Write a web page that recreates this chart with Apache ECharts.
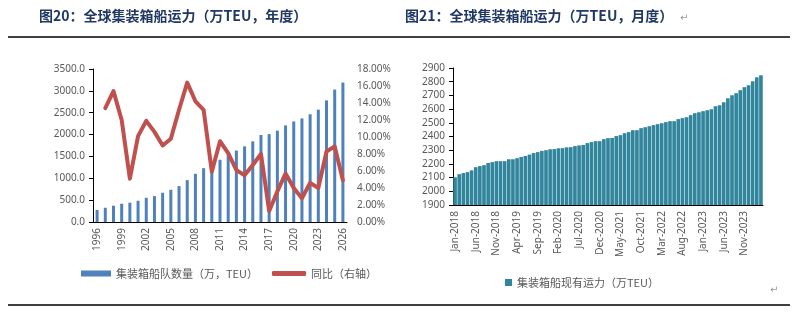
<!DOCTYPE html>
<html>
<head>
<meta charset="utf-8">
<script src="https://cdn.jsdelivr.net/npm/echarts@6/dist/echarts.min.js"></script>
<style>
html, body { margin: 0; padding: 0; background: #fff; }
#chart { width: 800px; height: 315px; }
</style>
</head>
<body>
<div id="chart"></div>
<script>
// 年度数据
var years = ['1996','1997','1998','1999','2000','2001','2002','2003','2004','2005','2006','2007','2008','2009','2010',
    '2011','2012','2013','2014','2015','2016','2017','2018','2019','2020','2021','2022','2023','2024','2025','2026'];
var fleetTeu = [275, 326, 372, 418, 441, 486, 554, 593, 669, 737, 821, 958, 1102, 1231, 1300,
    1424, 1540, 1635, 1730, 1845, 1990, 2010, 2090, 2210, 2300, 2370, 2465, 2570, 2782, 3030, 3190];
var yoy = ['-', 13.4, 15.4, 12.0, 5.1, 10.1, 11.9, 10.6, 9.0, 9.8, 13.2, 16.4, 14.2, 13.2, 5.9,
    9.5, 8.1, 6.1, 5.5, 6.7, 8.0, 1.3, 3.6, 5.7, 4.0, 2.8, 4.6, 4.0, 8.3, 8.9, 4.9];

// 月度数据 Jan-2018 ~ Mar-2024
var monthNames = ['Jan','Feb','Mar','Apr','May','Jun','Jul','Aug','Sep','Oct','Nov','Dec'];
var months = [];
for (var y = 2018; y <= 2024; y++) {
    for (var m = 0; m < 12; m++) {
        if (y == 2024 && m > 2) break;
        months.push(monthNames[m] + '-' + y);
    }
}
var monthlyTeu = [2102, 2125, 2133, 2140, 2153, 2176, 2184, 2191, 2207, 2213, 2220, 2220,
    2220, 2234, 2234, 2242, 2251, 2258, 2268, 2279, 2286, 2295, 2300, 2307,
    2308, 2314, 2315, 2321, 2322, 2330, 2335, 2338, 2352, 2359, 2366, 2366,
    2381, 2388, 2389, 2403, 2410, 2424, 2432, 2446, 2446, 2461, 2468, 2475,
    2483, 2490, 2497, 2505, 2512, 2512, 2527, 2534, 2541, 2556, 2570, 2577,
    2585, 2592, 2599, 2621, 2628, 2650, 2679, 2701, 2716, 2738, 2760, 2774,
    2803, 2832, 2847];

var labelFont = 'Noto Sans, Noto Sans CJK SC';
var gray = '#595959';

var myChart = echarts.init(document.getElementById('chart'));
var option = {
    animation: false,
    textStyle: { fontFamily: labelFont },
    graphic: [
        { type: 'text', left: 39, top: 9, style: { text: '图20：全球集装箱船运力（万TEU，年度）', font: 'bold 14px "Noto Sans CJK SC"', fill: '#1F3864' } },
        { type: 'text', left: 405, top: 9, style: { text: '图21：全球集装箱船运力（万TEU，月度）', font: 'bold 14px "Noto Sans CJK SC"', fill: '#1F3864' } },
        { type: 'text', left: 680, top: 13, style: { text: '↵', font: '10px "DejaVu Sans"', fill: '#999' } },
        { type: 'text', left: 770, top: 285, style: { text: '↵', font: '10px "DejaVu Sans"', fill: '#999' } },
        { type: 'line', shape: { x1: 8, y1: 37, x2: 790, y2: 37 }, style: { stroke: '#000', lineWidth: 1.5 } },
        { type: 'line', shape: { x1: 8, y1: 305, x2: 790, y2: 305 }, style: { stroke: '#000', lineWidth: 1.5 } }
    ],
    legend: [
        {
            data: ['集装箱船队数量（万，TEU）'],
            left: 76, top: 263,
            itemWidth: 30, itemHeight: 6,
            icon: 'rect',
            textStyle: { fontSize: 11, color: gray, fontFamily: 'Noto Sans CJK SC' }
        },
        {
            data: ['同比（右轴）'],
            left: 267, top: 263,
            itemWidth: 34, itemHeight: 5,
            icon: 'roundRect',
            textStyle: { fontSize: 11, color: gray, fontFamily: 'Noto Sans CJK SC' }
        },
        {
            data: ['集装箱船现有运力（万TEU）'],
            left: 500, top: 272,
            itemWidth: 7, itemHeight: 7,
            icon: 'rect',
            itemGap: 3,
            textStyle: { fontSize: 11, color: gray, fontFamily: 'Noto Sans CJK SC' }
        }
    ],
    grid: [
        { left: 93, top: 69, width: 254, height: 153 },
        { left: 453, top: 68, width: 310, height: 137 }
    ],
    xAxis: [
        {
            type: 'category', gridIndex: 0, data: years,
            axisLine: { lineStyle: { color: '#000' } },
            axisTick: { interval: 2, alignWithLabel: true, length: 4, lineStyle: { color: '#000' } },
            axisLabel: { interval: 2, rotate: 90, fontSize: 10, color: gray, margin: 6 }
        },
        {
            type: 'category', gridIndex: 1, data: months,
            axisLine: { lineStyle: { color: '#000' } },
            axisTick: { interval: 4, alignWithLabel: true, length: 4, lineStyle: { color: '#000' } },
            axisLabel: { interval: 4, rotate: 90, fontSize: 10, color: gray, margin: 6 }
        }
    ],
    yAxis: [
        {
            type: 'value', gridIndex: 0, min: 0, max: 3500, interval: 500,
            axisLine: { show: true, lineStyle: { color: '#000' } },
            axisTick: { show: true, length: 4, lineStyle: { color: '#000' } },
            splitLine: { show: false },
            axisLabel: { fontSize: 10, color: gray, margin: 8, formatter: function (v) { return v.toFixed(1); } }
        },
        {
            type: 'value', gridIndex: 0, position: 'right', min: 0, max: 18, interval: 2,
            axisLine: { show: false },
            axisTick: { show: false },
            splitLine: { show: false },
            axisLabel: { fontSize: 10, color: gray, margin: 10, formatter: function (v) { return v.toFixed(2) + '%'; } }
        },
        {
            type: 'value', gridIndex: 1, min: 1900, max: 2900, interval: 100,
            axisLine: { show: true, lineStyle: { color: '#000' } },
            axisTick: { show: true, length: 4, lineStyle: { color: '#000' } },
            splitLine: { show: false },
            axisLabel: { fontSize: 10, color: gray, margin: 8, formatter: function (v) { return String(v); } }
        }
    ],
    series: [
        {
            name: '集装箱船队数量（万，TEU）',
            type: 'bar',
            xAxisIndex: 0, yAxisIndex: 0,
            data: fleetTeu,
            barWidth: 3,
            itemStyle: { color: '#4F81BD' }
        },
        {
            name: '同比（右轴）',
            type: 'line',
            xAxisIndex: 0, yAxisIndex: 1,
            data: yoy,
            showSymbol: false,
            symbol: 'none',
            lineStyle: { width: 4, color: '#C0504D', cap: 'round', join: 'round' },
            itemStyle: { color: '#C0504D' }
        },
        {
            name: '集装箱船现有运力（万TEU）',
            type: 'bar',
            xAxisIndex: 1, yAxisIndex: 2,
            data: monthlyTeu,
            barCategoryGap: '12%',
            itemStyle: { color: '#31859C' }
        }
    ]
};
myChart.setOption(option);
</script>
</body>
</html>
